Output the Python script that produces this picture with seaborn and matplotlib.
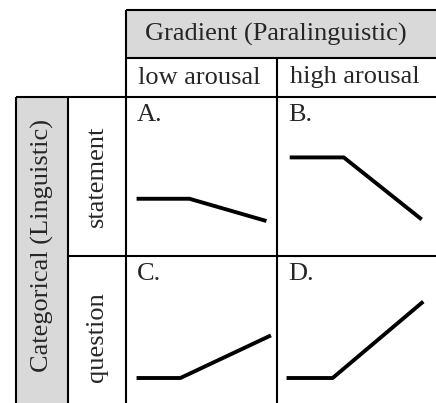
"""Pitch contour schematic: categorical (sentence type) x gradient (arousal)."""
import matplotlib
matplotlib.use("Agg")
import matplotlib.pyplot as plt
import matplotlib.patches as mpatches
import pandas as pd
import seaborn as sns

# --- data -------------------------------------------------------------------
COL_HEADER = "Gradient (Paralinguistic)"
ROW_HEADER = "Categorical (Linguistic)"
AROUSAL = ["low arousal", "high arousal"]
SENTENCE_TYPES = ["statement", "question"]
PANEL_LABELS = ["A.", "B.", "C.", "D."]

# normalised time (fraction of the cell) and pitch (0-10 scale) per panel
TIME_A = [0.07, 0.42, 0.93]
PITCH_A = [3.6, 3.6, 2.2]
TIME_B = [0.08, 0.42, 0.91]
PITCH_B = [6.2, 6.2, 2.3]
TIME_C = [0.07, 0.36, 0.96]
PITCH_C = [1.7, 1.7, 4.6]
TIME_D = [0.06, 0.35, 0.92]
PITCH_D = [1.7, 1.7, 6.9]

# --- layout (pixel grid of the table) ---------------------------------------
W, H = 436, 403
COL_X = [126, 277, 436]          # body column edges
ROW_Y = [97, 256, 403]           # body row edges
HEAD_Y = [10, 58, 97]            # header rows
LEFT_X = [16, 68, 126]           # left label columns
GRAY = "#d9d9d9"
LW_GRID = 1.5
FS = 19

sns.set_style("white")
plt.rcParams["font.family"] = ["Liberation Serif", "DejaVu Serif"]

fig = plt.figure(figsize=(W / 100, H / 100), dpi=100)
lay = fig.add_axes([0, 0, 1, 1])
lay.set_xlim(0, W)
lay.set_ylim(H, 0)
lay.axis("off")

# gray header cells
lay.add_patch(mpatches.Rectangle((COL_X[0], HEAD_Y[0]), COL_X[-1] - COL_X[0],
                                 HEAD_Y[1] - HEAD_Y[0], facecolor=GRAY, edgecolor="none"))
lay.add_patch(mpatches.Rectangle((LEFT_X[0], ROW_Y[0]), LEFT_X[1] - LEFT_X[0],
                                 ROW_Y[-1] - ROW_Y[0], facecolor=GRAY, edgecolor="none"))

# grid
kw = dict(color="black", lw=LW_GRID)
lay.hlines(HEAD_Y[0], COL_X[0], W, **kw)
lay.hlines(HEAD_Y[1], COL_X[0], W, **kw)
lay.hlines(ROW_Y[0], LEFT_X[0], W, **kw)
lay.hlines(ROW_Y[1], LEFT_X[1], W, **kw)
lay.vlines(COL_X[0], HEAD_Y[0], H, **kw)
lay.vlines(COL_X[1], HEAD_Y[1], H, **kw)
lay.vlines(LEFT_X[0], ROW_Y[0], H, **kw)
lay.vlines(LEFT_X[1], ROW_Y[0], H, **kw)

# header texts
lay.text(276, (HEAD_Y[0] + HEAD_Y[1]) / 2, COL_HEADER, ha="center", va="center", fontsize=FS)
for i, lab in enumerate(AROUSAL):
    cx = (COL_X[i] + COL_X[i + 1]) / 2
    lay.text(cx - 2, (HEAD_Y[1] + HEAD_Y[2]) / 2, lab, ha="center", va="center", fontsize=FS)
lay.text((LEFT_X[0] + LEFT_X[1]) / 2, 246, ROW_HEADER, ha="center", va="center",
         rotation=90, fontsize=FS)
row_centres = [176, 337]
for lab, cy in zip(SENTENCE_TYPES, row_centres):
    lay.text((LEFT_X[1] + LEFT_X[2]) / 2, cy, lab, ha="center", va="center",
             rotation=90, fontsize=FS)

# contour panels
contours = [(TIME_A, PITCH_A), (TIME_B, PITCH_B), (TIME_C, PITCH_C), (TIME_D, PITCH_D)]
for k, ((t, p), lab) in enumerate(zip(contours, PANEL_LABELS)):
    r, c = divmod(k, 2)
    x0, x1 = COL_X[c], COL_X[c + 1]
    y0, y1 = ROW_Y[r], ROW_Y[r + 1]
    ax = fig.add_axes([x0 / W, 1 - y1 / H, (x1 - x0) / W, (y1 - y0) / H])
    ax.patch.set_alpha(0)
    df = pd.DataFrame({"time": t, "pitch": p})
    sns.lineplot(data=df, x="time", y="pitch", ax=ax, color="black", lw=2.8,
                 estimator=None, sort=False, solid_capstyle="butt")
    ax.set_xlim(0, 1)
    ax.set_ylim(0, 10)
    ax.axis("off")
    lay.text(x0 + 11, y0 + 7, lab, ha="left", va="top", fontsize=FS)

fig.savefig("out.png", dpi=100)
